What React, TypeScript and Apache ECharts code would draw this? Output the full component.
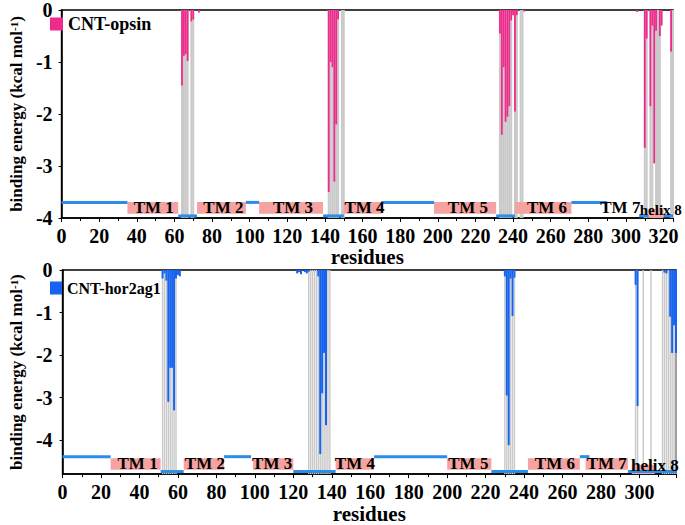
import React, { useEffect, useRef } from 'react';
import * as echarts from 'echarts';

// ---------- data: CNT-opsin (top panel) ----------
const opsinRes = [64, 65, 66, 67, 69, 70, 73, 142, 143, 144, 145, 146, 147, 233, 234, 235, 236, 237, 238, 239, 240, 241, 242, 246, 306, 310, 311, 313, 314, 315, 316, 318, 319, 324];
const opsinVal = [-1.45, -0.88, -0.85, -0.98, -0.22, -0.18, -0.05, -3.5, -1.0, -1.1, -3.3, -2.2, -0.18, -0.45, -2.4, -1.1, -2.15, -2.05, -1.85, -0.2, -0.1, -1.95, -0.1, -0.03, -0.04, -2.65, -0.55, -1.85, -0.3, -2.95, -0.4, -0.5, -0.3, -0.8];
const opsinContact = [64, 65, 66, 67, 69, 70, 142, 143, 144, 145, 146, 147, 149, 150, 233, 234, 235, 236, 237, 238, 239, 241, 242, 244, 245, 310, 311, 313, 314, 316, 317, 318, 324, 325];
const opsinUpperLoops = [[0, 35], [98, 105], [170, 198], [271, 290]];
const opsinLowerLoops = [[62, 72], [139, 150], [231, 241], [307, 312], [320, 325]];
const opsinHelices = [[35, 62], [72, 98], [105, 139], [150, 170], [198, 231], [241, 271]];
const opsinHelix8 = [[312, 320]];
const opsinLabels = ['TM 1', 'TM 2', 'TM 3', 'TM 4', 'TM 5', 'TM 6', 'TM 7', 'helix 8'];
const opsinLabelRes = [49, 86, 123, 161, 216, 258, 297, 318.5];

// ---------- data: CNT-hor2ag1 (bottom panel) ----------
const horRes = [52, 53, 54, 55, 56, 57, 58, 59, 60, 61, 122, 123, 124, 126, 127, 128, 133, 134, 135, 136, 137, 230, 231, 232, 233, 234, 235, 298, 299, 313, 314, 316, 317, 318, 319];
const horVal = [-0.2, -0.08, -0.25, -3.1, -2.3, -2.3, -3.3, -0.2, -0.12, -0.15, -0.08, -0.05, -0.1, -0.05, -0.08, -0.04, -0.15, -4.33, -2.9, -1.95, -3.65, -0.15, -2.95, -4.12, -0.2, -1.08, -0.18, -0.35, -3.2, -0.06, -0.08, -1.1, -1.95, -1.3, -1.95];
const horContact = [52, 53, 54, 55, 56, 57, 58, 59, 128, 129, 130, 131, 132, 133, 134, 135, 136, 137, 138, 139, 230, 231, 232, 233, 234, 235, 298, 299, 302, 306, 312, 313, 314, 315, 316, 317, 318, 319];
const horUpperLoops = [[0, 25], [84, 98], [162, 200], [269, 274]];
const horLowerLoops = [[51, 63], [120, 142], [223, 242], [294, 320]];
const horHelices = [[25, 51], [63, 84], [99, 120], [142, 162], [200, 223], [242, 269], [272, 294]];
const horHelix8 = [[296, 308]];
const horLabels = ['TM 1', 'TM 2', 'TM 3', 'TM 4', 'TM 5', 'TM 6', 'TM 7', 'helix 8'];
const horLabelRes = [39, 74, 109, 152, 211, 256, 283, 308];

const serif = '"Liberation Serif", "Times New Roman", serif';
const LOOP_BLUE = '#2b8de8';
const BOX_PINK = '#f4a3a0';
const GRAY = '#c9c9c9';

function segData(ranges: number[][], y0: number, y1: number) {
  return ranges.map((r) => [r[0], r[1], y0, y1]);
}

function segmentSeries(xi: number, yi: number, data: number[][], color: string, isLine: boolean) {
  return {
    type: 'custom',
    xAxisIndex: xi,
    yAxisIndex: yi,
    z: 3,
    silent: true,
    clip: true,
    encode: { x: [0, 1], y: [2, 3] },
    data,
    renderItem: (params: any, api: any) => {
      const a = api.coord([api.value(0), api.value(2)]);
      const b = api.coord([api.value(1), api.value(3)]);
      if (isLine) {
        return { type: 'rect', shape: { x: a[0], y: a[1] - 1.5, width: b[0] - a[0], height: 3 }, style: { fill: color } };
      }
      return { type: 'rect', shape: { x: a[0], y: a[1], width: b[0] - a[0], height: b[1] - a[1] }, style: { fill: color } };
    },
  };
}

function labelSeries(xi: number, yi: number, names: string[], xs: number[], ys: number[], sizes: number[]) {
  return {
    type: 'custom',
    xAxisIndex: xi,
    yAxisIndex: yi,
    z: 4,
    silent: true,
    clip: false,
    encode: { x: 0, y: 1 },
    data: xs.map((x, i) => [x, ys[i]]),
    renderItem: (params: any, api: any) => {
      const p = api.coord([api.value(0), api.value(1)]);
      const i = params.dataIndex;
      return {
        type: 'text',
        x: p[0],
        y: p[1],
        style: {
          text: names[i],
          fill: '#000',
          font: `bold ${sizes[i]}px ${serif}`,
          align: 'center',
          verticalAlign: 'middle',
        },
      };
    },
  };
}

const axisText = { fontFamily: serif, fontWeight: 'bold' as const, fontSize: 20, color: '#000' };

function xAxisCfg(gridIndex: number, max: number, show: boolean) {
  return {
    type: 'value',
    gridIndex,
    min: 0,
    max,
    interval: 20,
    show,
    name: 'residues',
    nameLocation: 'middle',
    nameGap: 27,
    nameTextStyle: { fontFamily: serif, fontWeight: 'bold', fontSize: 21, color: '#000' },
    axisLine: { show: true, onZero: false, lineStyle: { color: '#000', width: 1.5 } },
    axisTick: { show: true, length: 4, lineStyle: { color: '#000', width: 1 } },
    minorTick: { show: true, splitNumber: 2, length: 3, lineStyle: { color: '#000', width: 1 } },
    axisLabel: { ...axisText, margin: 8, showMaxLabel: false },
    splitLine: { show: false },
  };
}

function yAxisCfg(gridIndex: number, min: number, margin: number, nameGap: number) {
  return {
    type: 'value',
    gridIndex,
    min,
    max: 0,
    splitNumber: 5,
    name: 'binding energy (kcal mol{sup|-1})',
    nameLocation: 'middle',
    nameRotate: 90,
    nameGap,
    nameTextStyle: {
      fontFamily: serif,
      fontWeight: 'bold',
      fontSize: 17,
      color: '#000',
      rich: {
        sup: { fontFamily: serif, fontWeight: 'bold', fontSize: 11, color: '#000', verticalAlign: 'top' },
      },
    },
    axisLine: { show: true, onZero: false, lineStyle: { color: '#000', width: 1.5 } },
    axisTick: { show: true, length: 3, lineStyle: { color: '#000', width: 1 } },
    axisLabel: { ...axisText, margin, showMinLabel: min === -4, showMaxLabel: true },
    splitLine: { show: false },
  };
}

export default function App() {
  const ref = useRef<HTMLDivElement>(null);
  useEffect(() => {
    document.body.style.margin = '0';
    if (!ref.current) return;
    const chart = echarts.init(ref.current, undefined, { renderer: 'svg' });
    const option: any = {
      animation: false,
      backgroundColor: '#fff',
      grid: [
        { left: 44, right: 12, top: 10, bottom: 307, show: true, borderColor: '#000', borderWidth: 1.5, backgroundColor: 'transparent' },
        { left: 47, right: 9, top: 270, bottom: 47, show: true, borderColor: '#000', borderWidth: 1.5, backgroundColor: 'transparent' },
      ],
      legend: [
        {
          data: ['CNT-opsin'], left: 50, top: 15, padding: 0, itemWidth: 13, itemHeight: 13, icon: 'rect', itemGap: 5,
          textStyle: { fontFamily: serif, fontWeight: 'bold', fontSize: 18, color: '#000' }, selectedMode: false,
        },
        {
          data: ['CNT-hor2ag1'], left: 50, top: 280, padding: 0, itemWidth: 12, itemHeight: 13, icon: 'rect', itemGap: 2,
          textStyle: { fontFamily: serif, fontWeight: 'bold', fontSize: 16, color: '#000' }, selectedMode: false,
        },
      ],
      xAxis: [
        xAxisCfg(0, 325, true),
        { ...xAxisCfg(0, 325, false) },
        xAxisCfg(1, 319, true),
        { ...xAxisCfg(1, 319, false) },
      ],
      yAxis: [yAxisCfg(0, -4, 9, 29), yAxisCfg(1, -4.8, 10, 31)],
      series: [
        // top panel
        {
          type: 'bar', xAxisIndex: 1, yAxisIndex: 0, barWidth: 2, z: 1, silent: true,
          itemStyle: { color: GRAY }, data: opsinContact.map((r) => [r, -4]),
        },
        {
          type: 'bar', name: 'CNT-opsin', xAxisIndex: 0, yAxisIndex: 0, barWidth: 1.8, z: 2,
          itemStyle: { color: '#ef2a8d' }, data: opsinRes.map((r, i) => [r, opsinVal[i]]),
        },
        segmentSeries(0, 0, segData(opsinHelices, -3.69, -3.92), BOX_PINK, false),
        segmentSeries(0, 0, segData(opsinHelix8, -3.83, -4.0), BOX_PINK, false),
        segmentSeries(0, 0, segData(opsinUpperLoops, -3.7, -3.7), LOOP_BLUE, true),
        segmentSeries(0, 0, segData(opsinLowerLoops, -3.96, -3.96), LOOP_BLUE, true),
        labelSeries(0, 0, opsinLabels, opsinLabelRes, [-3.8, -3.8, -3.8, -3.8, -3.8, -3.8, -3.8, -3.84], [17, 17, 17, 17, 17, 17, 17, 15]),
        // bottom panel
        {
          type: 'bar', xAxisIndex: 3, yAxisIndex: 1, barWidth: 1.4, z: 1, silent: true,
          itemStyle: { color: GRAY }, data: horContact.map((r) => [r, -4.8]),
        },
        {
          type: 'bar', name: 'CNT-hor2ag1', xAxisIndex: 2, yAxisIndex: 1, barWidth: 2, z: 2,
          itemStyle: { color: '#1663f0' }, data: horRes.map((r, i) => [r, horVal[i]]),
        },
        segmentSeries(2, 1, segData(horHelices, -4.43, -4.7), BOX_PINK, false),
        segmentSeries(2, 1, segData(horHelix8, -4.58, -4.8), BOX_PINK, false),
        segmentSeries(2, 1, segData(horUpperLoops, -4.39, -4.39), LOOP_BLUE, true),
        segmentSeries(2, 1, segData(horLowerLoops, -4.74, -4.74), LOOP_BLUE, true),
        labelSeries(2, 1, horLabels, horLabelRes, [-4.55, -4.55, -4.55, -4.55, -4.55, -4.55, -4.55, -4.6], [17, 17, 17, 17, 17, 17, 17, 17]),
      ],
    };
    chart.setOption(option);
    return () => chart.dispose();
  }, []);
  return <div ref={ref} style={{ position: 'absolute', left: 0, top: 0, width: 685, height: 525 }} />;
}
